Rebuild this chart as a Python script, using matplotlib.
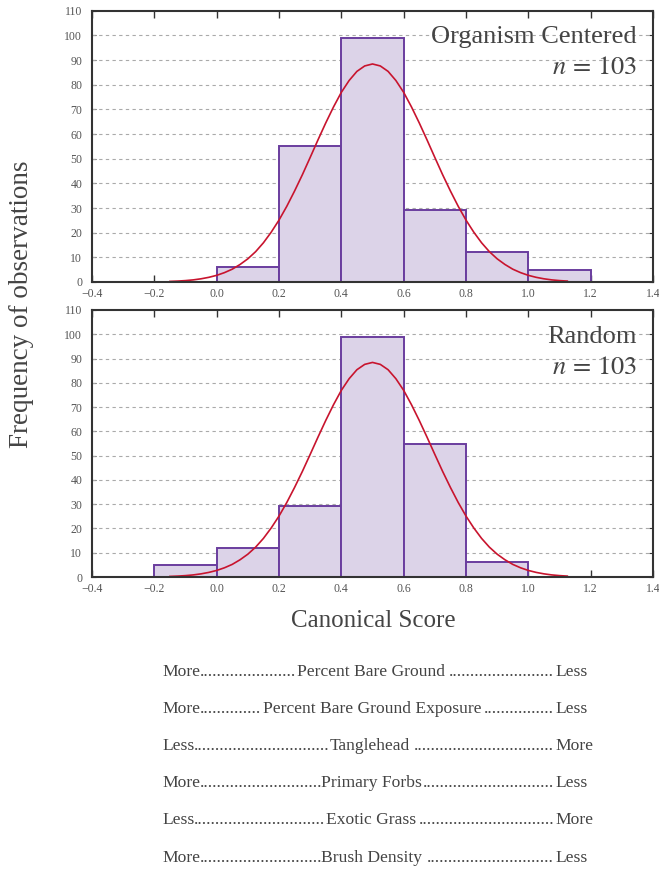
import matplotlib
matplotlib.use("Agg")
import matplotlib.pyplot as plt
import numpy as np

plt.rcParams['font.family'] = ['Liberation Serif', 'DejaVu Serif']
plt.rcParams['mathtext.fontset'] = 'stix'

# ---- data ----
bin_edges = [-0.2, 0.0, 0.2, 0.4, 0.6, 0.8, 1.0, 1.2]
organism_counts = [0, 6, 55, 99, 29, 12, 5]
random_counts = [5, 12, 29.3, 98.8, 55, 6, 0]

curve_x = [-0.15, -0.125, -0.1, -0.075, -0.05, -0.025, 0.0, 0.025, 0.05, 0.075,
           0.1, 0.125, 0.15, 0.175, 0.2, 0.225, 0.25, 0.275, 0.3, 0.325,
           0.35, 0.375, 0.4, 0.425, 0.45, 0.475, 0.5, 0.525, 0.55, 0.575,
           0.6, 0.625, 0.65, 0.675, 0.7, 0.725, 0.75, 0.775, 0.8, 0.825,
           0.85, 0.875, 0.9, 0.925, 0.95, 0.975, 1.0, 1.025, 1.05, 1.075,
           1.1, 1.125]
curve_y = [0.24, 0.37, 0.57, 0.86, 1.3, 1.9, 2.7, 3.8, 5.2, 7.1,
           9.4, 12.3, 15.9, 20.2, 25.1, 30.7, 36.9, 43.5, 50.5, 57.6,
           64.5, 71.0, 76.9, 81.7, 85.4, 87.6, 88.4, 87.6, 85.4, 81.7,
           76.9, 71.0, 64.5, 57.6, 50.5, 43.5, 36.9, 30.7, 25.1, 20.2,
           15.9, 12.3, 9.4, 7.1, 5.2, 3.8, 2.7, 1.9, 1.3, 0.86,
           0.57, 0.37]

panel_titles = ["Organism Centered", "Random"]
panel_n = [103, 103]
x_ticks = [-0.4, -0.2, 0.0, 0.2, 0.4, 0.6, 0.8, 1.0, 1.2, 1.4]
y_ticks = [0, 10, 20, 30, 40, 50, 60, 70, 80, 90, 100, 110]

rows_left = ["More", "More", "Less", "More", "Less", "More"]
rows_label = ["Percent Bare Ground", "Percent Bare Ground Exposure", "Tanglehead",
              "Primary Forbs", "Exotic Grass", "Brush Density"]
rows_right = ["Less", "Less", "More", "Less", "More", "Less"]

# ---- layout ----
W, H = 659, 869
fig = plt.figure(figsize=(W / 100, H / 100), dpi=100)

def fx(px):
    return px / W

def fy(py):
    return 1 - py / H

axes_px = [(10.7, 282), (310, 577)]
left_px, right_px = 92, 653

fill_c = '#dcd3e8'
edge_c = '#6a3d9e'
curve_c = '#c8142e'
text_c = '#444444'
spine_c = '#333333'

for i, (top, bot) in enumerate(axes_px):
    ax = fig.add_axes([fx(left_px), fy(bot), fx(right_px) - fx(left_px), (bot - top) / H])
    counts = organism_counts if i == 0 else random_counts
    lefts = bin_edges[:-1]
    widths = np.diff(bin_edges)
    ax.bar(lefts, counts, width=widths, align='edge', color=fill_c,
           edgecolor=edge_c, linewidth=1.4, zorder=2)
    ax.plot(curve_x, curve_y, color=curve_c, lw=1.2, zorder=3)
    ax.set_xlim(-0.4, 1.4)
    ax.set_ylim(0, 110)
    ax.set_xticks(x_ticks)
    ax.set_xticklabels([f"{t:.1f}".replace('-', '\u2212') for t in x_ticks])
    ax.set_yticks(y_ticks)
    ax.set_yticklabels([str(t) for t in y_ticks])
    ax.tick_params(axis='both', direction='in', top=True, right=True,
                   labelsize=8.5, labelcolor='#555555', color=spine_c)
    ax.tick_params(axis='x', length=5, width=1.0, pad=4)
    ax.tick_params(axis='y', length=3, width=0.8, pad=7)
    for s in ax.spines.values():
        s.set_color(spine_c)
        s.set_linewidth(1.5)
        s.set_zorder(5)
    for t in y_ticks[1:-1]:
        ax.axhline(t, color='#aaaaaa', lw=0.8, ls=(0, (3, 3)), zorder=1)
    ax.set_axisbelow(True)

    fig.text(fx(637), fy(top + 32.6), panel_titles[i], ha='right', va='baseline',
             fontsize=19, color=text_c, zorder=10)
    fig.text(fx(637), fy(top + 63.5), rf"$n\,=\,{panel_n[i]}$", ha='right', va='baseline',
             fontsize=19, color=text_c)

fig.text(fx(22), fy(304), "Frequency of observations", rotation=90, ha='center',
         va='center', fontsize=19.5, color=text_c)
fig.text(fx(373), fy(621), "Canonical Score", ha='center', va='center',
         fontsize=18, color=text_c)

# ---- bottom rows ----
row_base = [676, 713.3, 750, 786.7, 824.3, 861.7]
label_x = [296.7, 262.7, 330, 321, 326, 321]
row_fs = 12.6
fig.canvas.draw()
renderer = fig.canvas.get_renderer()

probe = fig.text(0, 0, "." * 20, fontsize=row_fs)
dot_w = probe.get_window_extent(renderer).width / 20
probe.remove()
right_x = 555

for lw_, lab, rw, lx, yb in zip(rows_left, rows_label, rows_right, label_x, row_base):
    t1 = fig.text(fx(162), fy(yb), lw_, ha='left', va='baseline', fontsize=row_fs, color=text_c)
    t2 = fig.text(fx(lx), fy(yb), lab, ha='left', va='baseline', fontsize=row_fs, color=text_c)
    fig.text(fx(right_x), fy(yb), rw, ha='left', va='baseline', fontsize=row_fs, color=text_c)
    e1 = t1.get_window_extent(renderer)
    e2 = t2.get_window_extent(renderer)
    gap1 = lx - e1.x1
    n1 = max(int(round(gap1 / dot_w)), 0)
    fig.text(fx(e1.x1), fy(yb), "." * n1, ha='left', va='baseline', fontsize=row_fs, color=text_c)
    gap2 = right_x - e2.x1 - 4
    n2 = max(int(round(gap2 / dot_w)), 0)
    fig.text(fx(right_x - 1), fy(yb), "." * n2, ha='right', va='baseline', fontsize=row_fs, color=text_c)

fig.savefig("out.png", dpi=100)
